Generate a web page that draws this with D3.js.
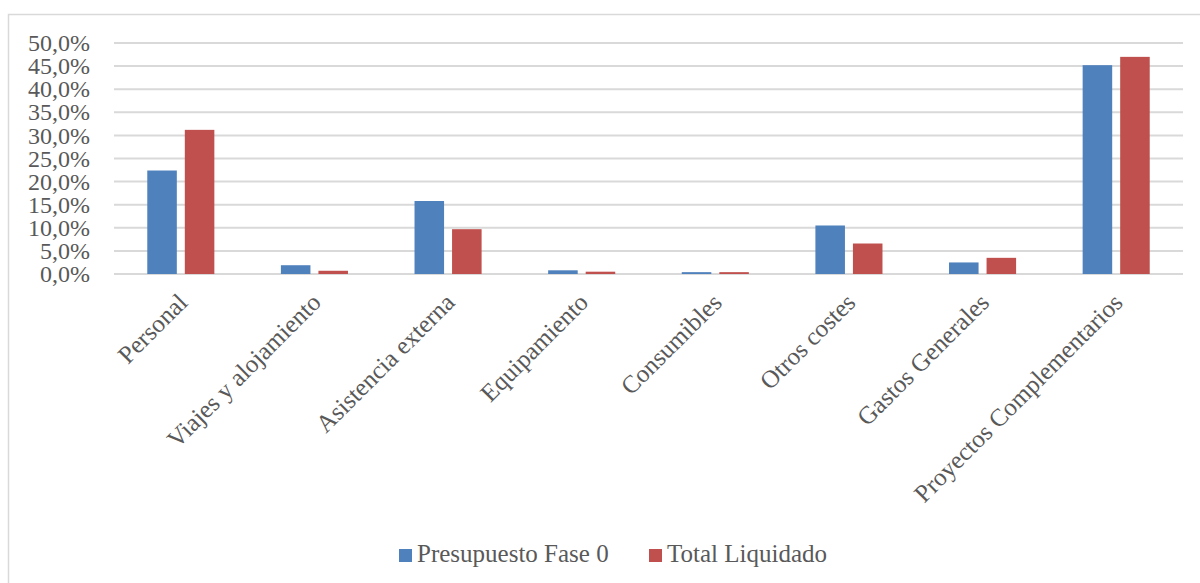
<!DOCTYPE html>
<html>
<head>
<meta charset="utf-8">
<script src="https://cdn.jsdelivr.net/npm/d3@7"></script>
<style>
  html, body { margin: 0; padding: 0; background: #fff; }
  svg { display: block; font-family: "Liberation Serif", "DejaVu Serif", serif; }
</style>
</head>
<body>
<svg id="chart" width="1200" height="583"></svg>
<script>
const categories = ["Personal", "Viajes y alojamiento", "Asistencia externa", "Equipamiento",
  "Consumibles", "Otros costes", "Gastos Generales", "Proyectos Complementarios"];
const seriesNames = ["Presupuesto Fase 0", "Total Liquidado"];
const presupuesto = [22.4, 1.9, 15.8, 0.8, 0.4, 10.5, 2.5, 45.2];
const liquidado   = [31.2, 0.7, 9.7, 0.5, 0.4, 6.6, 3.5, 47.0];
const yTicks = [0, 5, 10, 15, 20, 25, 30, 35, 40, 45, 50];
const colors = ["#4f81bd", "#c0504d"];

const svg = d3.select("#chart");
const textColor = "#595959";
const gridColor = "#d9d9d9";

// chart frame
svg.append("rect")
  .attr("x", 8.5).attr("y", 14.5)
  .attr("width", 1300).attr("height", 700)
  .attr("fill", "none").attr("stroke", gridColor).attr("stroke-width", 1.5);

const plotL = 114, plotR = 1183, plotT = 43, plotB = 274;

const x0 = d3.scaleBand().domain(categories).range([plotL, plotR]).padding(0);
const groupW = x0.bandwidth() * 0.502;
const x1 = d3.scaleBand().domain(seriesNames).range([0, groupW]).paddingInner(0.213).paddingOuter(0);
const y = d3.scaleLinear().domain([0, 50]).range([plotB, plotT]);

// gridlines
svg.append("g").selectAll("line").data(yTicks).join("line")
  .attr("x1", plotL).attr("x2", plotR)
  .attr("y1", d => y(d)).attr("y2", d => y(d))
  .attr("stroke", gridColor).attr("stroke-width", 2);

// y axis labels
const fmt = d => d.toFixed(1).replace(".", ",") + "%";
const yAxis = d3.axisLeft(y).tickValues(yTicks).tickFormat(fmt).tickSize(0).tickPadding(0);
const yg = svg.append("g").attr("transform", `translate(90,0)`).call(yAxis);
yg.select(".domain").remove();
yg.selectAll("text")
  .attr("fill", textColor)
  .style("font-family", '"Liberation Serif", serif')
  .style("font-size", "24px");

// bars
const data = categories.map((c, i) => ({ cat: c, vals: [presupuesto[i], liquidado[i]] }));
const groups = svg.append("g").selectAll("g").data(data).join("g")
  .attr("transform", d => `translate(${x0(d.cat) + (x0.bandwidth() - groupW) / 2},0)`);
groups.selectAll("rect").data(d => d.vals.map((v, j) => ({ v, s: seriesNames[j], j })))
  .join("rect")
  .attr("x", d => x1(d.s))
  .attr("width", x1.bandwidth())
  .attr("y", d => y(d.v))
  .attr("height", d => y(0) - y(d.v))
  .attr("fill", d => colors[d.j]);

// x axis labels (rotated)
svg.append("g").selectAll("text").data(categories).join("text")
  .attr("transform", d => `translate(${x0(d) + x0.bandwidth() / 2 + 8},304) rotate(-45)`)
  .attr("text-anchor", "end")
  .attr("fill", textColor)
  .style("font-size", "25px")
  .text(d => d);

// legend
const legendX = [399, 649];
const lg = svg.append("g").selectAll("g").data(seriesNames).join("g")
  .attr("transform", (d, i) => `translate(${legendX[i]},0)`);
lg.append("rect").attr("x", 0).attr("y", 549).attr("width", 13).attr("height", 13)
  .attr("fill", (d, i) => colors[i]);
lg.append("text").attr("x", 18).attr("y", 562)
  .attr("fill", textColor).style("font-size", "25px")
  .text(d => d);
</script>
</body>
</html>
